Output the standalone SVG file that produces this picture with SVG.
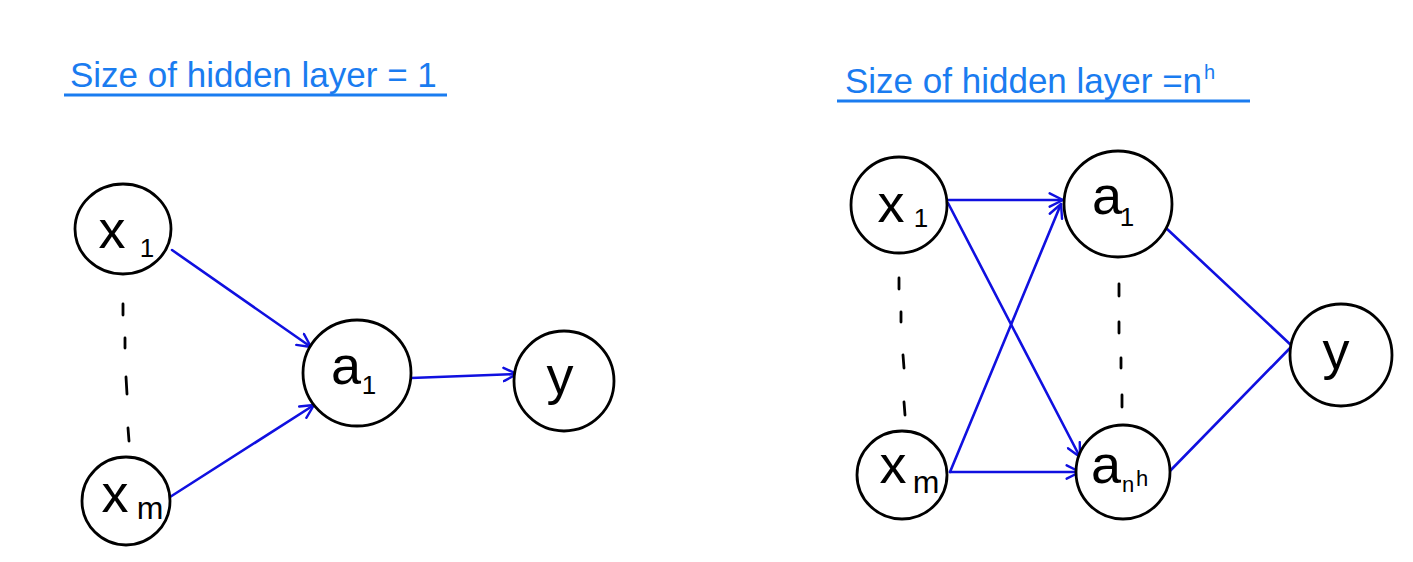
<svg xmlns="http://www.w3.org/2000/svg" width="1413" height="562" viewBox="0 0 1413 562">
  <style>
    .node { fill: #ffffff; stroke: #000000; stroke-width: 2.8; }
    .lbl { font-family: "Liberation Sans", Arial, sans-serif; fill: #000000; }
    .main { font-size: 54px; }
    .sub { font-size: 26px; }
    .title { font-family: "Liberation Sans", Arial, sans-serif; font-size: 35px; fill: #1a7cf0; }
    .rule { stroke: #1a7cf0; stroke-width: 2.8; fill: none; }
    .edge { stroke: #1010e0; stroke-width: 2.6; fill: none; stroke-linecap: round; }
    .arr { marker-end: url(#head); }
    .dash { stroke: #000000; stroke-width: 2.8; stroke-linecap: round; }
  </style>
  <defs>
    <marker id="head" viewBox="0 0 12 12" refX="11" refY="6" markerWidth="16" markerHeight="16" markerUnits="userSpaceOnUse" orient="auto">
      <path d="M1,1 L11,6 L1,11" fill="none" stroke="#1010e0" stroke-width="1.8" stroke-linecap="round" stroke-linejoin="round"/>
    </marker>
  </defs>
  <rect width="1413" height="562" fill="#ffffff"/>

  <!-- headings -->
  <g id="title-left">
    <text class="title" x="70" y="87">Size of hidden layer = 1</text>
    <line class="rule" x1="64" y1="95" x2="447" y2="95"/>
  </g>
  <g id="title-right">
    <text class="title" x="845" y="93">Size of hidden layer =n<tspan dx="2" dy="-14" style="font-size:20px">h</tspan></text>
    <line class="rule" x1="837" y1="101" x2="1250" y2="101"/>
  </g>

  <!-- connectors -->
  <g id="connectors">
    <line class="edge arr" x1="172" y1="250" x2="311" y2="347"/>
    <line class="edge arr" x1="170" y1="497" x2="314" y2="405"/>
    <line class="edge arr" x1="411" y1="378" x2="517" y2="374"/>

    <line class="edge arr" x1="948" y1="200" x2="1063" y2="200"/>
    <line class="edge arr" x1="948" y1="203" x2="1080" y2="457"/>
    <line class="edge arr" x1="950" y1="472" x2="1061" y2="204"/>
    <line class="edge arr" x1="950" y1="472" x2="1080" y2="472"/>
    <line class="edge" x1="1166" y1="228" x2="1292" y2="346"/>
    <line class="edge" x1="1168" y1="473" x2="1292" y2="346"/>
  </g>

  <!-- ellipsis marks between first and last units -->
  <g id="dots-left">
    <line class="dash" x1="123" y1="304" x2="123" y2="315"/>
    <line class="dash" x1="125" y1="338" x2="125" y2="348"/>
    <line class="dash" x1="126" y1="377" x2="127" y2="394"/>
    <line class="dash" x1="128" y1="428" x2="129" y2="441"/>
  </g>
  <g id="dots-inputs">
    <line class="dash" x1="899" y1="278" x2="899" y2="289"/>
    <line class="dash" x1="901" y1="312" x2="901" y2="322"/>
    <line class="dash" x1="903" y1="355" x2="904" y2="368"/>
    <line class="dash" x1="904" y1="402" x2="905" y2="415"/>
  </g>
  <g id="dots-hidden">
    <line class="dash" x1="1119" y1="284" x2="1119" y2="296"/>
    <line class="dash" x1="1119" y1="322" x2="1119" y2="333"/>
    <line class="dash" x1="1121" y1="358" x2="1121" y2="368"/>
    <line class="dash" x1="1122" y1="395" x2="1122" y2="407"/>
  </g>

  <!-- left network -->
  <g id="l-x1">
    <ellipse class="node" cx="123" cy="229" rx="48" ry="45"/>
    <text class="lbl main" x="112" y="248" text-anchor="middle">x</text>
    <text class="lbl sub" x="147" y="257" text-anchor="middle">1</text>
  </g>
  <g id="l-xm">
    <ellipse class="node" cx="126" cy="501" rx="44" ry="44"/>
    <text class="lbl main" x="115" y="512" text-anchor="middle">x</text>
    <text class="lbl sub" x="150" y="519" text-anchor="middle" style="font-size:32px">m</text>
  </g>
  <g id="l-a1">
    <ellipse class="node" cx="357" cy="373" rx="54" ry="53"/>
    <text class="lbl main" x="346" y="384" text-anchor="middle">a</text>
    <text class="lbl sub" x="369" y="394" text-anchor="middle">1</text>
  </g>
  <g id="l-y">
    <ellipse class="node" cx="564" cy="381" rx="50" ry="50"/>
    <text class="lbl main" x="560" y="394" text-anchor="middle">y</text>
  </g>

  <!-- right network -->
  <g id="r-x1">
    <ellipse class="node" cx="899" cy="205" rx="48" ry="48"/>
    <text class="lbl main" x="891" y="222" text-anchor="middle">x</text>
    <text class="lbl sub" x="921" y="227" text-anchor="middle">1</text>
  </g>
  <g id="r-xm">
    <ellipse class="node" cx="902" cy="475" rx="45" ry="44"/>
    <text class="lbl main" x="893" y="483" text-anchor="middle">x</text>
    <text class="lbl sub" x="926" y="493" text-anchor="middle" style="font-size:32px">m</text>
  </g>
  <g id="r-a1">
    <ellipse class="node" cx="1118" cy="204" rx="54" ry="53"/>
    <text class="lbl main" x="1107" y="214" text-anchor="middle">a</text>
    <text class="lbl sub" x="1127" y="226" text-anchor="middle">1</text>
  </g>
  <g id="r-anh">
    <ellipse class="node" cx="1123" cy="472" rx="47" ry="47"/>
    <text class="lbl main" x="1106" y="483" text-anchor="middle">a</text>
    <text class="lbl sub" x="1128" y="492" text-anchor="middle" style="font-size:22px">n</text>
    <text class="lbl sub" x="1142" y="486" text-anchor="middle" style="font-size:22px">h</text>
  </g>
  <g id="r-y">
    <ellipse class="node" cx="1341" cy="355" rx="51" ry="51"/>
    <text class="lbl main" x="1336" y="369" text-anchor="middle">y</text>
  </g>
</svg>
